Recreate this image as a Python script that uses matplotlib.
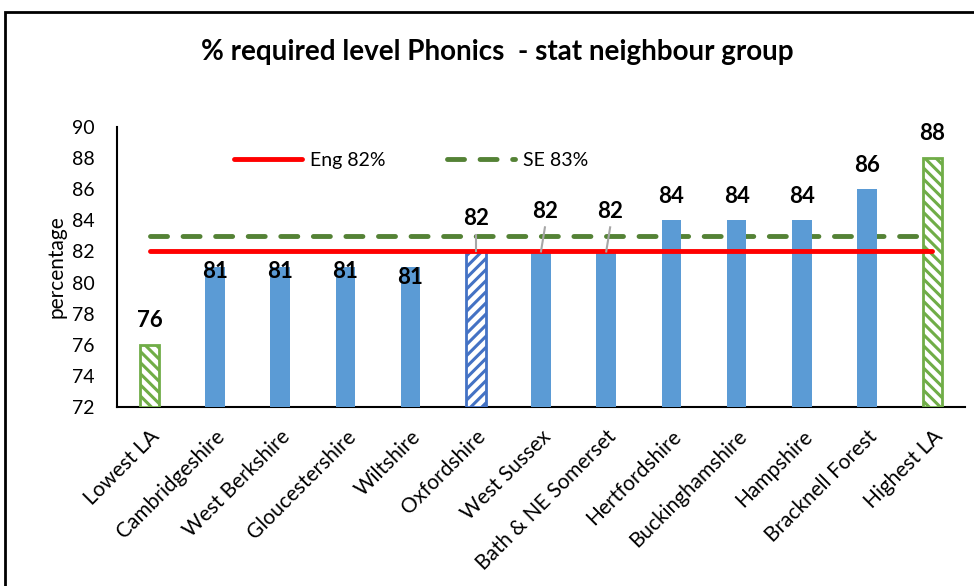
import numpy as np
import matplotlib.pyplot as plt
from matplotlib.patches import Rectangle

plt.rcParams['font.family'] = ['Lato', 'DejaVu Sans']
plt.rcParams['hatch.linewidth'] = 2.2

# Local authorities in the stat neighbour group
areas = ["Lowest LA", "Cambridgeshire", "West Berkshire", "Gloucestershire", "Wiltshire",
         "Oxfordshire", "West Sussex", "Bath & NE Somerset", "Hertfordshire",
         "Buckinghamshire", "Hampshire", "Bracknell Forest", "Highest LA"]

# % at required level in phonics
values = [76, 81, 81, 81, 81, 82, 82, 82, 84, 84, 84, 86, 88]

eng = 82
se = 83

fig = plt.figure(figsize=(9.74, 5.86), dpi=100)
ax = fig.add_axes([117 / 974, 1 - 407 / 586, 848 / 974, 280 / 586])

x = np.arange(len(areas))
bar_width = 0.3

for i in range(len(values)):
    if areas[i] in ("Lowest LA", "Highest LA"):
        ax.bar(x[i], values[i] - 72, bottom=72, width=bar_width, color='white',
               edgecolor='#70AD47', hatch='\\\\\\', linewidth=2, zorder=3)
    elif areas[i] == "Oxfordshire":
        ax.bar(x[i], values[i] - 72, bottom=72, width=bar_width, color='white',
               edgecolor='#4472C4', hatch='///', linewidth=2, zorder=3)
    else:
        ax.bar(x[i], values[i] - 72, bottom=72, width=bar_width, color='#5B9BD5', zorder=3)

# England and South East lines
ax.plot([x[0], x[-1]], [eng, eng], color='red', linewidth=3.5, solid_capstyle='round',
        zorder=4, label="Eng 82%")
ax.plot([x[0], x[-1]], [se, se], color='#548235', linewidth=3.5, dashes=(3.5, 3.2),
        dash_capstyle='round', zorder=2, label="SE 83%")

# Data labels (Excel moved some of them)
offsets = {1: -0.3, 2: -0.3, 3: -0.3, 4: -0.7}
for i in range(len(values)):
    if i in offsets:
        ax.text(x[i], values[i] + offsets[i], str(values[i]), ha='center', va='center',
                fontsize=16, fontweight='bold', zorder=5)
    elif values[i] == 82:
        dx = 0.0 if i == 5 else 0.06
        ty = 84.1 if i == 5 else 84.6
        ax.text(x[i] + dx, ty, str(values[i]), ha='center', va='center',
                fontsize=16, fontweight='bold', zorder=5)
        ax.plot([x[i] + dx, x[i]], [ty - 1.05, values[i]], color='#A6A6A6', linewidth=1.5, zorder=5)
    else:
        ax.text(x[i], values[i] + 1.55, str(values[i]), ha='center', va='center',
                fontsize=16, fontweight='bold', zorder=5)

ax.set_xlim(-0.5, len(areas) - 0.5)
ax.set_ylim(72, 90)
ax.set_yticks(np.arange(72, 91, 2))
ax.set_xticks(x)
ax.set_xticklabels(areas, rotation=45, ha='right', rotation_mode='anchor', fontsize=15)
ax.tick_params(axis='y', length=0, pad=16, labelsize=14)
ax.tick_params(axis='x', length=0, pad=14)
ax.set_ylabel("percentage", fontsize=15, labelpad=4)

for s in ['top', 'right']:
    ax.spines[s].set_visible(False)
ax.spines['left'].set_linewidth(1.5)
ax.spines['bottom'].set_linewidth(1.5)

ax.legend(loc='center left', bbox_to_anchor=(0.117, 0.88), ncol=2, frameon=False,
          fontsize=14, handlelength=3.5, columnspacing=3.2, handletextpad=0.4)

fig.text(497 / 974, 1 - 52 / 586, "% required level Phonics  - stat neighbour group",
         ha='center', va='center', fontsize=20, fontweight='bold')

# Chart border
fig.patches.append(Rectangle((5 / 974, -0.1), 1.2, 1 - 12 / 586 + 0.1,
                             transform=fig.transFigure, fill=False,
                             edgecolor='black', linewidth=2))

plt.savefig("out.png", dpi=100)
